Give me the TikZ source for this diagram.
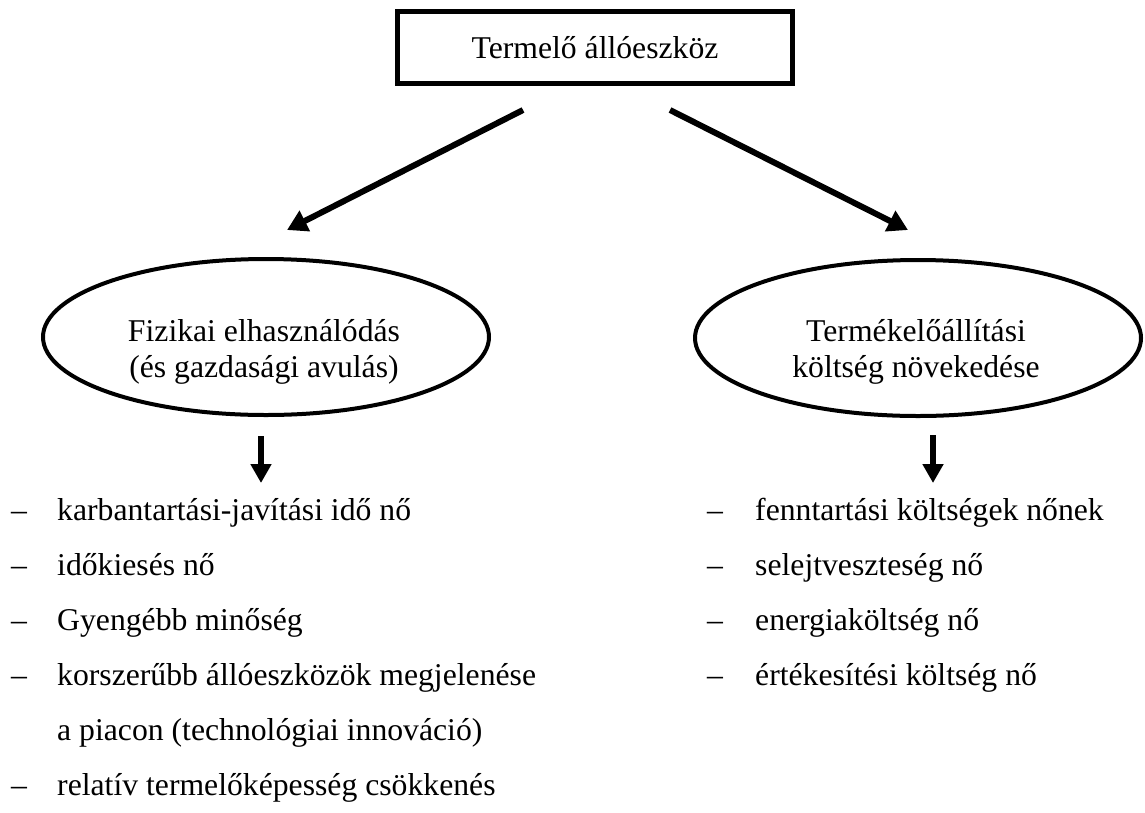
\documentclass[tikz,border=0pt]{standalone}
\usepackage{fontspec}
\setmainfont{Liberation Serif}
\usetikzlibrary{arrows.meta,shapes.geometric}
\tikzset{
	boxnode/.style={draw,line width=5pt,minimum width=395pt,minimum height=72pt,inner sep=0pt},
	oval/.style={draw,ellipse,line width=4pt,minimum width=446pt,minimum height=156pt,inner sep=0pt},
	lbl/.style={align=center,inner sep=0pt},
	item/.style={anchor=base west,inner sep=0pt},
	bigarr/.style={line width=6pt,-{Triangle[length=20pt,width=22pt]}},
	smallarr/.style={line width=6.5pt,-{Triangle[length=19pt,width=20pt]}}
}
\begin{document}
\begin{tikzpicture}[x=1pt,y=-1pt,font=\fontsize{31.7}{35.5}\selectfont]
	\useasboundingbox (0,0) rectangle (1145,812);
	\node[boxnode] (top) at (595,47.5) {Termelő állóeszköz};
	\node[oval] (fiz) at (266,337) {};
	\node[oval] (kolt) at (918,338) {};
	\node[lbl] (fizt) at (264,352) {Fizikai elhasználódás\\(és gazdasági avulás)};
	\node[lbl] (koltt) at (916,352) {Termékelőállítási\\költség növekedése};
	\path
	(523,110) coordinate (a1)
	(287,230) coordinate (b1)
	(670,110) coordinate (a2)
	(908,230) coordinate (b2)
	(261,436) coordinate (a3)
	(261,483) coordinate (b3)
	(933,435) coordinate (a4)
	(933,483) coordinate (b4)
	;
	\draw[bigarr] (a1)--(b1);
	\draw[bigarr] (a2)--(b2);
	\draw[smallarr] (a3)--(b3);
	\draw[smallarr] (a4)--(b4);
	% bal oldali felsorolas
	\foreach \y/\t [count=\i] in {520/karbantartási-javítási idő nő,575/időkiesés nő,630/Gyengébb minőség,685/korszerűbb állóeszközök megjelenése,795/relatív termelőképesség csökkenés}{
		\node[item] (dl\i) at (11,\y) {–};
		\node[item] (l\i) at (57,\y) {\t};
	}
	\node[item] (l4b) at (57,740) {a piacon (technológiai innováció)};
	% jobb oldali felsorolas
	\foreach \y/\t [count=\i] in {520/fenntartási költségek nőnek,575/selejtveszteség nő,630/energiaköltség nő,685/értékesítési költség nő}{
		\node[item] (dr\i) at (707,\y) {–};
		\node[item] (r\i) at (755,\y) {\t};
	}
\end{tikzpicture}
\end{document}
